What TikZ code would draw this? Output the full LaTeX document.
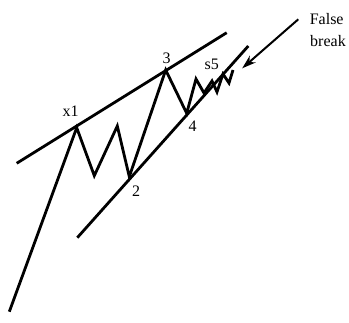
\documentclass[tikz,border=0pt]{standalone}
\usepackage{fontspec}
\setmainfont{Liberation Serif}
\usetikzlibrary{arrows.meta}
\begin{document}
\begin{tikzpicture}[x=1pt,y=-1pt]
    \tikzstyle{trend}=[line width=2.8pt]
    \tikzstyle{wave}=[line width=2.8pt, line join=miter]
    \tikzstyle{lbl}=[font=\fontsize{16}{18}\selectfont, inner sep=1pt]
    \useasboundingbox (0,0) rectangle (349,323);

    % channel lines
    \coordinate (up0) at (16.7,163.3);
    \coordinate (up1) at (226.7,32.7);
    \coordinate (lo0) at (77.3,237.7);
    \coordinate (lo1) at (248.3,46);
    \draw[trend] (up0) -- (up1);
    \draw[trend] (lo0) -- (lo1);

    % price path
    \coordinate (start) at (9.3,311.7);
    \coordinate (w1) at (76.7,127.7);
    \coordinate (wa) at (94.3,175.7);
    \coordinate (wb) at (117.3,126);
    \coordinate (w2) at (129.3,176.7);
    \coordinate (w3) at (165.7,70);
    \coordinate (w4) at (186.7,113.3);
    \draw[wave] (start) -- (w1) -- (wa) -- (wb) -- (w2) -- (w3) -- (w4)
      \foreach \x/\y in {196/79,204/93,212/81,217/92,223/74,229/83,233/70} { -- (\x,\y) };

    \node[lbl] (lx1) at (70.7,111.2) {x1};
    \node[lbl] (l2) at (136,191.7) {2};
    \node[lbl] (l3) at (166.7,58) {3};
    \node[lbl] (l4) at (192.7,126.7) {4};
    \node[lbl] (l5) at (211.7,64.5) {s5};

    % false break marker
    \node[lbl] (false) at (326.7,19.5) {False};
    \node[lbl] (break) at (328,41.5) {break};
    \coordinate (ar0) at (298.3,19.3);
    \coordinate (ar1) at (242.2,68.3);
    \draw[line width=2pt, -{Stealth[length=14pt,width=9pt]}] (ar0) -- (ar1);
\end{tikzpicture}
\end{document}
